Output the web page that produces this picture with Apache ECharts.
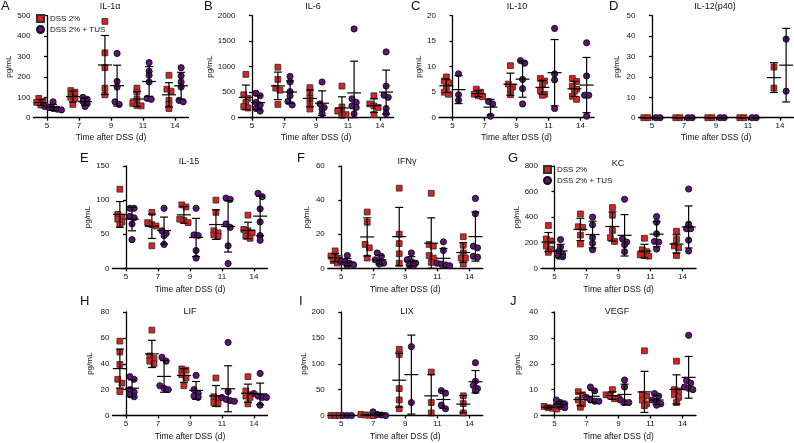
<!DOCTYPE html>
<html><head><meta charset="utf-8">
<script src="https://cdn.jsdelivr.net/npm/echarts@6/dist/echarts.min.js"></script>
<style>html,body{margin:0;padding:0;background:#fff}#c{width:794px;height:443px}</style>
</head><body><div id="c"></div>
<script>
// ---------- data ----------
const days = ['5', '7', '9', '11', '14'];
const groupNames = ['DSS 2%', 'DSS 2% + TUS'];

const il1a_dss = [[95,80,75,62,60],[133,125,100,95,65],[472,318,245,145,112],[145,125,90,70,60,58],[208,140,130,85,65,45]];
const il1a_tus = [[78,55,50,45,42,38],[100,90,80,68,55],[315,178,150,78,65],[270,228,208,175,95,90],[245,205,175,150,85,78]];

const il6_dss = [[850,450,380,300,220,190],[990,750,580,540,260],[590,480,380,270,170],[620,210,130,80,60,50],[430,270,230,200,60]];
const il6_tus = [[480,430,300,250,180,130],[810,700,510,430,320,250],[700,270,200,170,80],[1740,370,300,230,200,75],[1290,620,440,400,180,80]];

const il10_dss = [[8.0,7.2,6.8,5.9,5.0,4.6],[5.6,5.0,4.6,4.3,4.1],[10.2,6.6,6.0,5.5,4.5],[7.7,7.2,6.5,5.3,4.6,4.4],[7.7,7.1,6.2,5.6,5.2,4.2,3.6]];
const il10_tus = [[8.6,4.5,3.4],[3.2,2.7,0.3],[11.2,10.7,7.5,5.7,2.7],[17.5,8.6,7.4,1.8],[14.7,8.2,4.4,4.4,0.3]];

const il12_dss = [[0,0],[0,0],[0,0],[0,0],[24.8,14.5]];
const il12_tus = [[0,0],[0,0],[0,0],[0,0],[38.5,13]];

const il15_dss = [[116,79,75,72,68,64],[82,67,64,62,33],[93,90,72,70,67],[100,82,55,52,49,47],[78,57,55,52,47,44]];
const il15_tus = [[88,88,76,74,65,42],[88,55,51,48,35],[88,49,48,26,15],[103,101,65,60,33,7],[110,105,87,68,48,41]];

const ifng_dss = [[10.2,7.2,6.5,5.8,4.6,3.1],[33,27,14,12,6],[47,20,14.5,8.5,3],[44,14,13,7.5,6,3.5],[18.5,13.5,9,6,6,2.5]];
const ifng_tus = [[7.5,4,3.5,3,2,1.5],[9,7,5,3.5,3,2.5],[9,5,4,3,2,1.5],[15.5,10.5,3,2.5,2,1.5],[41,32,13,12,7,6.5]];

const kc_dss = [[335,230,215,175,150,125],[425,325,320,260,190],[475,415,295,240,210],[235,145,130,105,100,95],[290,225,175,160,100]];
const kc_tus = [[225,165,130,110,95,90],[400,340,240,195,145],[540,230,205,185,130],[405,360,270,210,205,150],[620,345,310,310,220,135]];

const lif_dss = [[57.5,49,39.5,28,25,18.5],[66,46,44,42,40],[36,35,31.5,29,23],[29,14.5,13,10,9],[30,19,16,15,14,9]];
const lif_tus = [[30,28,20,18,16,14.5],[45,42,23,21,20],[31,20,17,15,14],[56.5,18.5,14,12.5,11.5,11],[32.5,17,15,14,14,8]];

const lix_dss = [[0,0,0],[2,1,0.5,0],[128,118,52,30,13],[84,25,5],[38,23,5]];
const lix_tus = [[0,0,0],[7,2,1,0],[133,25],[48,43,20,13],[102,66,58,52,48]];

const vegf_dss = [[4,3.5,3,2.8,2.5],[9.2,8,6,4.5,3.2],[10,8,7.5,6.5,6.5],[25,8,7.5,6,4.5,3.8],[21,10,9.5,8,7,5]];
const vegf_tus = [[6,5,4.5,4,3.5,3],[11,9.5,7,6,5.5,5.5],[13.7,11,6,5,5],[8.5,7.5,6,5.5,4.5,4],[31,13.5,12.5,11,10.5,10]];

// y-axis ranges (max, interval)
const yMax = {A:500, B:2000, C:20, D:50, E:150, F:60, G:800, H:80, I:200, J:40};
const yStep = {A:100, B:500, C:5, D:10, E:50, F:20, G:200, H:20, I:50, J:10};

// ---------- layout ----------
const panels = [
  {k:'A', title:'IL-1α',     dss:il1a_dss, tus:il1a_tus, left:33.5,  top:15.7, h:102,   yGap:18,   xGap:15.5, tx:110, ty:2.5, lx:1,   ly:0},
  {k:'B', title:'IL-6',      dss:il6_dss,  tus:il6_tus,  left:238.5, top:15.7, h:102,   yGap:24.5, xGap:15.5, tx:313, ty:2.5, lx:204, ly:0},
  {k:'C', title:'IL-10',     dss:il10_dss, tus:il10_tus, left:439,   top:15.7, h:102,   yGap:13.5, xGap:15.5, tx:517, ty:2.5, lx:411, ly:0},
  {k:'D', title:'IL-12(p40)',dss:il12_dss, tus:il12_tus, left:638.5, top:15.7, h:102,   yGap:17.5, xGap:15.5, tx:715, ty:2.5, lx:609, ly:0},
  {k:'E', title:'IL-15',     dss:il15_dss, tus:il15_tus, left:112.5, top:166,  h:102.3, yGap:20.5, xGap:17,   tx:189, ty:157, lx:80,  ly:152},
  {k:'F', title:'IFNγ',      dss:ifng_dss, tus:ifng_tus, left:327.8, top:166,  h:102.3, yGap:16.8, xGap:17,   tx:407, ty:157, lx:297, ly:152},
  {k:'G', title:'KC',        dss:kc_dss,   tus:kc_tus,   left:541,   top:166,  h:102.3, yGap:19,   xGap:17,   tx:618, ty:159, lx:508, ly:152},
  {k:'H', title:'LIF',       dss:lif_dss,  tus:lif_tus,  left:112.5, top:312,  h:103.5, yGap:18.5, xGap:17,   tx:190, ty:307, lx:80,  ly:295},
  {k:'I', title:'LIX',       dss:lix_dss,  tus:lix_tus,  left:327.8, top:312,  h:103.5, yGap:16.8, xGap:17,   tx:407, ty:307, lx:299, ly:295},
  {k:'J', title:'VEGF',      dss:vegf_dss, tus:vegf_tus, left:541,   top:312,  h:103.5, yGap:19,   xGap:17,   tx:617, ty:307, lx:510, ly:295}
];

const PLOT_W = 155, XMIN = -0.42, XMAX = 4.42;
const UNIT = PLOT_W / (XMAX - XMIN);
const SIDE = 0.19;
const FONT = '"Liberation Sans", Arial, Helvetica, sans-serif';

function swarm(vals, pxPerVal) {
  const idx = vals.map((v, i) => i).sort((a, b) => vals[b] - vals[a]);
  const off = new Array(vals.length).fill(0);
  let row = [];
  const flush = () => { row.forEach((id, j) => { off[id] = (j - (row.length - 1) / 2) * 4.2; }); row = []; };
  idx.forEach(id => {
    if (row.length && (vals[row[0]] - vals[id]) * pxPerVal > 4) flush();
    row.push(id);
  });
  flush();
  return off;
}
function meanSd(a) {
  const m = a.reduce((s, v) => s + v, 0) / a.length;
  if (a.length < 2) return [m, 0];
  const v = a.reduce((s, x) => s + (x - m) * (x - m), 0) / (a.length - 1);
  return [m, Math.sqrt(v)];
}

const grid = [], xAxis = [], yAxis = [], series = [], title = [];
const axisLineStyle = {color: '#000', width: 1.3};

panels.forEach((p, gi) => {
  const max = yMax[p.k];
  grid.push({left: p.left, top: p.top, width: PLOT_W, height: p.h});
  xAxis.push({
    type: 'value', gridIndex: gi, min: XMIN, max: XMAX,
    name: 'Time after DSS (d)', nameLocation: 'middle', nameGap: p.xGap,
    nameTextStyle: {fontFamily: FONT, fontSize: 8.5, color: '#111'},
    axisLine: {show: true, onZero: false, lineStyle: axisLineStyle},
    axisTick: {show: true, length: 3, lineStyle: axisLineStyle, customValues: [0, 1, 2, 3, 4]},
    axisLabel: {show: true, fontFamily: FONT, fontSize: 8, color: '#111', margin: 4,
      customValues: [0, 1, 2, 3, 4], formatter: v => days[Math.round(v)]},
    splitLine: {show: false}
  });
  yAxis.push({
    type: 'value', gridIndex: gi, min: 0, max: max, interval: yStep[p.k],
    name: 'pg/mL', nameLocation: 'middle', nameRotate: 90, nameGap: p.yGap,
    nameTextStyle: {fontFamily: FONT, fontSize: 8, color: '#111'},
    axisLine: {show: true, lineStyle: axisLineStyle},
    axisTick: {show: true, length: 3, lineStyle: axisLineStyle},
    axisLabel: {fontFamily: FONT, fontSize: 8, color: '#111', margin: 3, formatter: v => String(v)},
    splitLine: {show: false}
  });
  const pxPerVal = p.h / max;
  [[p.dss, -SIDE, 0], [p.tus, SIDE, 1]].forEach(([groups, side, g]) => {
    const pts = [];
    const errs = [];
    groups.forEach((vals, i) => {
      const off = swarm(vals, pxPerVal);
      vals.forEach((v, j) => pts.push([i + side + off[j] / UNIT, v]));
      const [m, s] = meanSd(vals);
      errs.push([i + side, m, s]);
    });
    series.push({
      type: 'scatter', name: groupNames[g], xAxisIndex: gi, yAxisIndex: gi,
      symbol: g === 0 ? 'rect' : 'circle', symbolSize: g === 0 ? 5.8 : 6.2,
      itemStyle: g === 0
        ? {color: '#e0201f', borderColor: '#333', borderWidth: 0.9, opacity: 1}
        : {color: '#5c1476', borderColor: '#111', borderWidth: 0.9, opacity: 1},
      data: pts, z: 2, silent: true
    });
    series.push({
      type: 'custom', name: 'err' + gi + '_' + g, xAxisIndex: gi, yAxisIndex: gi, z: 3, silent: true,
      data: errs, encode: {x: 0, y: 1},
      renderItem: (params, api) => {
        const x = api.value(0), m = api.value(1), s = api.value(2);
        const c = api.coord([x, m]);
        const t = api.coord([x, m + s]);
        const b = api.coord([x, Math.max(0, m - s)]);
        const st = {stroke: '#000', lineWidth: 1.2};
        return {type: 'group', children: [
          {type: 'line', shape: {x1: c[0], y1: t[1], x2: c[0], y2: b[1]}, style: st},
          {type: 'line', shape: {x1: c[0] - 4, y1: t[1], x2: c[0] + 4, y2: t[1]}, style: st},
          {type: 'line', shape: {x1: c[0] - 4, y1: b[1], x2: c[0] + 4, y2: b[1]}, style: st},
          {type: 'line', shape: {x1: c[0] - 7, y1: c[1], x2: c[0] + 7, y2: c[1]}, style: st}
        ]};
      }
    });
  });
  title.push({text: p.title, left: p.tx, top: p.ty, textAlign: 'center',
    textStyle: {fontFamily: FONT, fontSize: 9, fontWeight: 'normal', color: '#111'}, padding: 0});
  title.push({text: p.k, left: p.lx, top: p.ly,
    textStyle: {fontFamily: FONT, fontSize: 13, fontWeight: 'normal', color: '#111'}, padding: 0});
});

const legendBase = {
  orient: 'vertical', itemWidth: 7, itemHeight: 7, itemGap: 2, padding: 0,
  textStyle: {fontFamily: FONT, fontSize: 8, color: '#111', padding: [0, 0, 0, 1]},
  data: groupNames, selectedMode: false
};
const legend = [
  Object.assign({}, legendBase, {left: 36, top: 14}),
  Object.assign({}, legendBase, {left: 543, top: 165})
];

const chart = echarts.init(document.getElementById('c'));
chart.setOption({animation: false, backgroundColor: '#fff', title, legend, grid, xAxis, yAxis, series});
</script>
</body></html>
